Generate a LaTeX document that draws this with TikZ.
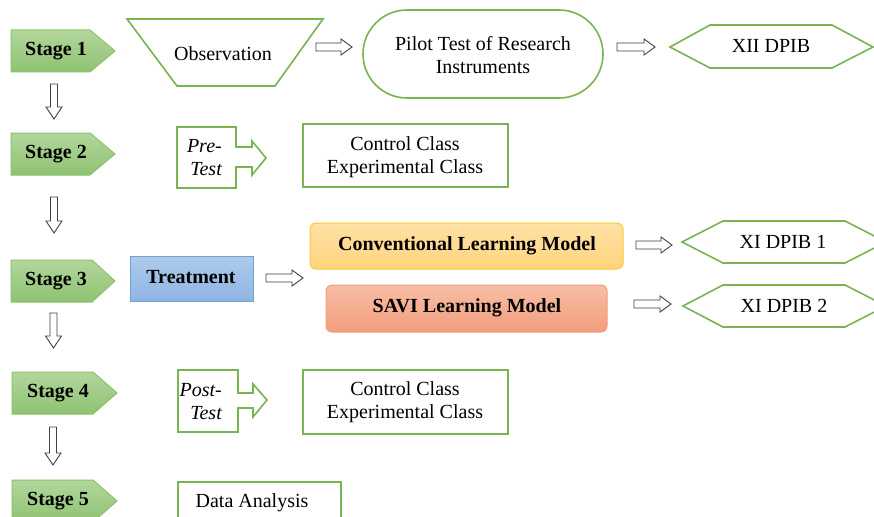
\documentclass[tikz,border=0pt]{standalone}
\usepackage{fontspec}
\setmainfont{Liberation Serif}
\usetikzlibrary{calc}
\definecolor{gline}{HTML}{78B450}
\definecolor{sttop}{HTML}{B2D79C}
\definecolor{stbot}{HTML}{8FC272}
\definecolor{stline}{HTML}{8CC26C}
\definecolor{btop}{HTML}{AECBEB}
\definecolor{bbot}{HTML}{8EB5E2}
\definecolor{bline}{HTML}{6FA2DA}
\definecolor{ytop}{HTML}{FFE2A6}
\definecolor{ybot}{HTML}{FFD37C}
\definecolor{yline}{HTML}{FFC830}
\definecolor{rtop}{HTML}{F7BEA6}
\definecolor{rbot}{HTML}{F29E7C}
\definecolor{rline}{HTML}{EFA07A}
\definecolor{aline}{HTML}{404040}
\tikzset{
  stagebox/.style={top color=sttop,bottom color=stbot,draw=stline,line width=1pt},
  gbox/.style={draw=gline,line width=1.6pt,fill=white},
  blk/.style={draw=aline,line width=0.9pt,fill=white,line join=miter},
  txt/.style={font=\fontsize{20}{23}\selectfont,inner sep=0pt,align=center},
  btxt/.style={font=\fontsize{20}{23}\selectfont\bfseries,inner sep=0pt,align=center},
}
\newcommand\hblock[2]{\draw[blk] ($(#1)+(0,-4)$) -- ($(#2)+(-11,-4)$) -- ($(#2)+(-11,-8)$) -- (#2) -- ($(#2)+(-11,8)$) -- ($(#2)+(-11,4)$) -- ($(#1)+(0,4)$) -- cycle;}
\newcommand\vblock[2]{\draw[blk] ($(#1)+(-3.5,0)$) -- ($(#2)+(-3.5,-12)$) -- ($(#2)+(-8,-12)$) -- (#2) -- ($(#2)+(8,-12)$) -- ($(#2)+(3.5,-12)$) -- ($(#1)+(3.5,0)$) -- cycle;}
\begin{document}
\begin{tikzpicture}[x=1pt,y=-1pt]
\useasboundingbox (0,0) rectangle (874,516);
\clip (0,0) rectangle (874,516);
\fill[white] (0,0) rectangle (874,516);

% stages
\draw[stagebox] (11,30) -- (90,30) -- (115,51) -- (90,72) -- (11,72) -- cycle;
\node[btxt] (st1) at (56,51) {Stage 1};
\draw[stagebox] (11,133) -- (90,133) -- (115,154) -- (90,175) -- (11,175) -- cycle;
\node[btxt] (st2) at (56,154) {Stage 2};
\draw[stagebox] (11,260) -- (92,260) -- (115,281) -- (92,302) -- (11,302) -- cycle;
\node[btxt] (st3) at (56,281) {Stage 3};
\draw[stagebox] (12,372) -- (93,372) -- (117,393) -- (93,414) -- (12,414) -- cycle;
\node[btxt] (st4) at (58,393) {Stage 4};
\draw[stagebox] (12,480) -- (93,480) -- (117,501) -- (93,522) -- (12,522) -- cycle;
\node[btxt] (st5) at (58,501) {Stage 5};

% vertical arrows
\coordinate (v1a) at (54,84);  \coordinate (v1b) at (54,119);
\coordinate (v2a) at (54,197); \coordinate (v2b) at (54,233);
\coordinate (v3a) at (53.5,313); \coordinate (v3b) at (53.5,348);
\coordinate (v4a) at (53,427); \coordinate (v4b) at (53,465);
\vblock{v1a}{v1b}
\vblock{v2a}{v2b}
\vblock{v3a}{v3b}
\vblock{v4a}{v4b}

% row 1
\draw[gbox] (127,19) -- (323,19) -- (275,86) -- (177,86) -- cycle;
\node[txt] (obs) at (223,54) {Observation};
\draw[gbox,rounded corners=44pt] (363,10) rectangle (603,98);
\node[txt] (pilot) at (483,55) {Pilot Test of Research\\Instruments};
\draw[gbox] (670,47) -- (710,25) -- (832,25) -- (873,47) -- (832,68) -- (710,68) -- cycle;
\node[txt] (xii) at (771,46) {XII DPIB};
\coordinate (h1a) at (316,47); \coordinate (h1b) at (352,47);
\coordinate (h2a) at (617,47); \coordinate (h2b) at (655,47);
\hblock{h1a}{h1b}
\hblock{h2a}{h2b}

% row 2
\draw[gbox] (177,127) -- (236,127) -- (236,147) -- (252,147) -- (252,141) -- (266,158) -- (252,175) -- (252,167) -- (236,167) -- (236,188) -- (177,188) -- cycle;
\node[txt,font=\fontsize{20}{23}\selectfont\itshape,align=right,anchor=east] (pre) at (222,158) {Pre-\\Test};
\draw[gbox] (303,124) rectangle (508,187);
\node[txt] (cc1) at (405,157) {Control Class\\Experimental Class};

% row 3
\draw[top color=btop,bottom color=bbot,draw=bline,line width=1pt] (130,256) rectangle (253,301);
\node[btxt] (treat) at (191,277) {Treatment};
\coordinate (h3a) at (266,278); \coordinate (h3b) at (303,278);
\hblock{h3a}{h3b}
\draw[top color=ytop,bottom color=ybot,draw=yline,line width=1pt,rounded corners=6pt] (310,223) rectangle (623,269);
\node[btxt] (conv) at (467,246) {Conventional Learning Model};
\draw[top color=rtop,bottom color=rbot,draw=rline,line width=1pt,rounded corners=6pt] (326,285) rectangle (607,332);
\node[btxt] (savi) at (467,308) {SAVI Learning Model};
\coordinate (h4a) at (636,245); \coordinate (h4b) at (672,245);
\coordinate (h5a) at (634,304); \coordinate (h5b) at (671,304);
\hblock{h4a}{h4b}
\hblock{h5a}{h5b}
\draw[gbox] (682,242) -- (723,221) -- (845,221) -- (886,242) -- (845,263) -- (723,263) -- cycle;
\node[txt] (xi1) at (783,242) {XI DPIB 1};
\draw[gbox] (683,306) -- (723,285) -- (845,285) -- (886,306) -- (845,327) -- (723,327) -- cycle;
\node[txt] (xi2) at (784,306) {XI DPIB 2};

% row 4
\draw[gbox] (178,370) -- (238,370) -- (238,393) -- (253,393) -- (253,384) -- (267,400) -- (253,417) -- (253,408) -- (238,408) -- (238,432) -- (178,432) -- cycle;
\node[txt,font=\fontsize{20}{23}\selectfont\itshape,align=right,anchor=east] (post) at (222,402) {Post-\\Test};
\draw[gbox] (303,370) rectangle (508,434);
\node[txt] (cc2) at (405,402) {Control Class\\Experimental Class};

% row 5
\draw[gbox] (178,482) rectangle (341,530);
\node[txt] (data) at (252,503) {Data Analysis};
\end{tikzpicture}
\end{document}
